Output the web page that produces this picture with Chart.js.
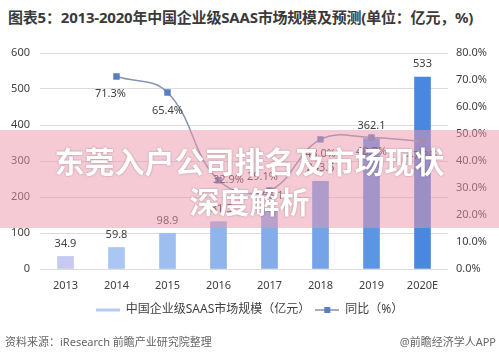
<!DOCTYPE html>
<html>
<head>
<meta charset="utf-8">
<script src="https://cdn.jsdelivr.net/npm/chart.js@4"></script>
<style>
  body { margin: 0; width: 499px; height: 363px; background: #fff; position: relative; overflow: hidden;
         font-family: "Noto Sans", "Noto Sans CJK SC", sans-serif; }
  #titulo { position: absolute; left: 8px; top: 6px; font-size: 15px; font-weight: bold; color: #3a3a3a; white-space: nowrap; letter-spacing: -0.2px; }
  #grafico { position: absolute; left: 0; top: 36px; width: 499px; height: 300px; }
  #fonte { position: absolute; left: 5px; top: 333px; font-size: 11px; color: #666; }
  #marca { position: absolute; right: 3px; top: 333px; font-size: 11px; color: #666; }
  #faixa { position: absolute; left: 0; top: 130px; width: 499px; height: 98px; background: rgba(236,150,172,0.5);
           color: #fff; font-weight: bold; font-size: 30px; text-align: center; line-height: 40px;
           text-shadow: 0 0 2px rgba(0,0,0,0.35); padding-top: 12px; box-sizing: border-box; }
</style>
</head>
<body>
<div id="titulo">图表5：2013-2020年中国企业级SAAS市场规模及预测(单位：亿元，%)</div>
<div id="grafico"><canvas id="chart1"></canvas></div>
<div id="fonte">资料来源：iResearch 前瞻产业研究院整理</div>
<div id="marca">@前瞻经济学人APP</div>
<div id="faixa">东莞入户公司排名及市场现状<br>深度解析</div>
<script>
// dados
const anos = ['2013', '2014', '2015', '2016', '2017', '2018', '2019', '2020E'];
const mercado = [34.9, 59.8, 98.9, 131.5, 166.1, 243.5, 362.1, 533];
const crescimento = [null, 71.3, 65.4, 32.9, 29.1, 48.0, 48.7, 47.2];
const coresBarras = ['#c6c9f1', '#aac6f2', '#9ebef0', '#90b4ec', '#84ace9', '#75a3e8', '#5c95e6', '#4a88e0'];

const fonte = '"Noto Sans", "Noto Sans CJK SC", sans-serif';

// ícones da legenda
function iconeLegenda(comQuadrado) {
    let c = document.createElement('canvas');
    c.width = 24; c.height = 8;
    let g = c.getContext('2d');
    g.strokeStyle = comQuadrado ? '#7f93b3' : '#b5cdf0';
    g.lineWidth = comQuadrado ? 1.5 : 3;
    g.beginPath(); g.moveTo(0, 4); g.lineTo(24, 4); g.stroke();
    if (comQuadrado) {
        g.fillStyle = '#5a7ec3';
        g.fillRect(9, 1, 6, 6);
    }
    return c;
}
const iconeBarra = iconeLegenda(false);
const iconeLinha = iconeLegenda(true);

// rótulos de valores
const rotulos = {
    id: 'rotulos',
    afterDatasetsDraw(chart) {
        let ctx = chart.ctx;
        ctx.save();
        ctx.font = '11px ' + fonte;
        ctx.fillStyle = '#404040';
        ctx.textAlign = 'center';
        ctx.textBaseline = 'middle';
        chart.getDatasetMeta(0).data.forEach(function (bar, i) {
            ctx.fillText(String(mercado[i]), bar.x, bar.y - 13);
        });
        let desloc = [[0, 0], [-6, 17], [0, 18], [10, 0], [-7, -14], [0, 14], [0, 14], [0, 14]];
        chart.getDatasetMeta(1).data.forEach(function (p, i) {
            if (crescimento[i] == null) return;
            ctx.fillText(crescimento[i].toFixed(1) + '%', p.x + desloc[i][0], p.y + desloc[i][1]);
        });
        ctx.restore();
    }
};

const config = {
    data: {
        labels: anos,
        datasets: [{
            type: 'bar',
            label: '中国企业级SAAS市场规模（亿元）',
            data: mercado,
            backgroundColor: coresBarras,
            barThickness: 16,
            yAxisID: 'y',
            order: 2
        }, {
            type: 'line',
            label: '同比（%）',
            data: crescimento,
            borderColor: '#8596b2',
            borderWidth: 1.5,
            tension: 0.4,
            pointStyle: 'rect',
            pointRadius: 3.5,
            pointBackgroundColor: '#5a7ec3',
            pointBorderColor: '#5a7ec3',
            yAxisID: 'y1',
            order: 1
        }]
    },
    options: {
        responsive: true,
        maintainAspectRatio: false,
        animation: false,
        layout: { padding: { top: 17, bottom: 10, left: 0, right: 0 } },
        plugins: {
            tooltip: { enabled: false },
            legend: {
                position: 'bottom',
                labels: {
                    usePointStyle: true,
                    pointStyleWidth: 24,
                    padding: 5,
                    boxHeight: 8,
                    color: '#404040',
                    font: { size: 12, family: fonte },
                    generateLabels: function (chart) {
                        return chart.data.datasets.map(function (ds, i) {
                            return {
                                text: ds.label,
                                pointStyle: i == 0 ? iconeBarra : iconeLinha,
                                fillStyle: 'transparent',
                                strokeStyle: 'transparent',
                                lineWidth: 0,
                                fontColor: '#404040',
                                datasetIndex: i
                            };
                        });
                    }
                }
            }
        },
        scales: {
            x: {
                grid: { display: false, drawTicks: false },
                border: { display: false },
                ticks: { padding: 10, color: '#404040', font: { size: 11, family: fonte } },
                afterFit: function (s) { s.height = 30; }
            },
            y: {
                position: 'left',
                min: 0, max: 600,
                ticks: { stepSize: 100, padding: 10, color: '#404040', font: { size: 11, family: fonte } },
                grid: { color: '#dcdcdc', drawTicks: false },
                border: { display: false },
                afterFit: function (s) { s.width = 40; }
            },
            y1: {
                position: 'right',
                min: 0, max: 80,
                ticks: {
                    stepSize: 10, padding: 8, color: '#404040', font: { size: 11, family: fonte },
                    callback: function (v) { return v.toFixed(1) + '%'; }
                },
                grid: { display: false, drawTicks: false },
                border: { display: false },
                afterFit: function (s) { s.width = 51; }
            }
        }
    },
    plugins: [rotulos]
};

var ctx = document.getElementById('chart1').getContext('2d');
let myChart = new Chart(ctx, config);
</script>
</body>
</html>
